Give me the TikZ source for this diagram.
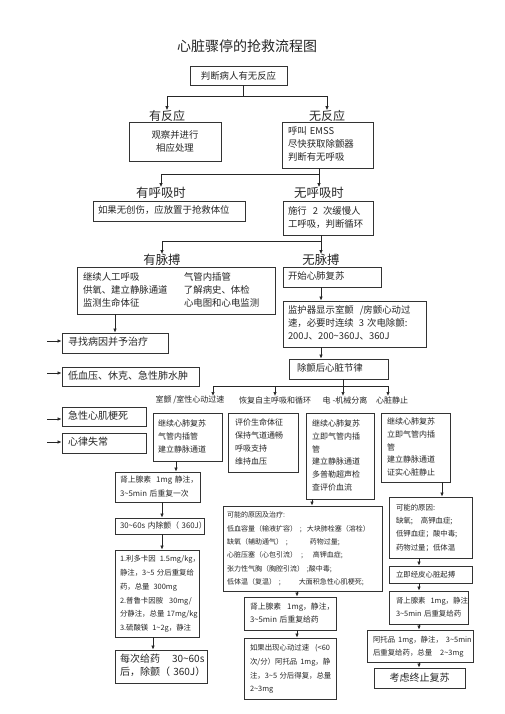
\documentclass[tikz,border=0pt]{standalone}
\usepackage{fontspec}
\setmainfont{Noto Sans CJK SC}
\usetikzlibrary{arrows.meta}
\newcommand\mytilde{\textasciitilde}
\newcommand\mylines[1]{\begin{tabular}{@{}l@{}}#1\end{tabular}}
\newcommand\fzT{\fontsize{14}{16}\selectfont}
\newcommand\fzL{\fontsize{12}{14}\selectfont}
\newcommand\fzM{\fontsize{12.4}{14}\selectfont}
\newcommand\fzA{\fontsize{9.4}{13}\selectfont}
\newcommand\fzC{\fontsize{8}{12.7}\selectfont}
\newcommand\fzD{\fontsize{7.4}{13.8}\selectfont}
\newcommand\fzE{\fontsize{7}{13.4}\selectfont}
\newcommand\fzF{\fontsize{7.4}{13.3}\selectfont}
\newcommand\fzG{\fontsize{7.8}{13.5}\selectfont}
\newcommand\fzH{\fontsize{10}{13}\selectfont}
\newcommand\fzR{\fontsize{8}{10}\selectfont}
\begin{document}
\begin{tikzpicture}[x=1pt,y=-1pt,
  bx/.style n args={2}{draw=black!80, line width=0.8pt, inner sep=0pt, minimum width=#1pt, minimum height=#2pt, text=black!85},
  tx/.style={text width=#1pt, align=left},
  lbl/.style={inner sep=0pt, text=black!85},
  ln/.style={line width=0.7pt, draw=black!85},
  arr/.style={ln, -{Latex[length=4pt,width=3.4pt]}},
]
\fill[white] (0,0) rectangle (505,714);
\useasboundingbox (0,0) rectangle (505,714);

% title
\node[lbl, font=\fzT] (title) at (247,46) {心脏骤停的抢救流程图};

% level 0
\node[bx={97}{19}, font=\fzA] (n0) at (238.5,75.5) {判断病人有无反应};
\coordinate (j0) at (243,96);
\node[lbl, font=\fzL] (l1) at (167,116) {有反应};
\node[lbl, font=\fzL] (l2) at (327,116) {无反应};
\draw[ln] (n0.south -| j0) -- (j0);
\draw[arr] (j0) -| (l1.north);
\draw[arr] (j0) -| (l2.north);

\node[bx={92}{39}, font=\fzA, align=center] (b1) at (175,141.5) {观察并进行\\相应处理};
\node[bx={91}{46}, font=\fzA, tx=79] (b2) at (327.5,145) {\mylines{呼叫 EMSS\\尽快获取除颤器\\判断有无呼吸}};

\coordinate (j1) at (319,174);
\node[lbl, font=\fzM] (l3) at (161,193) {有呼吸时};
\node[lbl, font=\fzM] (l4) at (319,193) {无呼吸时};
\draw[ln] (b2.south -| j1) -- (j1);
\draw[arr] (j1) -| (l3.north);
\draw[arr] (j1) -- (l4.north);

\node[bx={152}{20}, font=\fzA, tx=142] (b3) at (169,211) {\mylines{如果无创伤，应放置于抢救体位}};
\node[bx={90}{34}, font=\fzA, tx=80] (b4) at (328,218) {\mylines{施行\hspace{6pt}2\hspace{5pt}次缓慢人\\工呼吸，判断循环}};

\coordinate (j2) at (321,241);
\node[lbl, font=\fzM] (l5) at (162,260) {有脉搏};
\node[lbl, font=\fzM] (l6) at (321,260) {无脉搏};
\draw[ln] (b4.south -| j2) -- (j2);
\draw[arr] (j2) -| (l5.north);
\draw[arr] (j2) -- (l6.north);

\node[bx={198}{47}, font=\fzA] (b5) at (176,290.5) {\begin{tabular}{@{}p{101pt}@{}p{85pt}@{}}继续人工呼吸 & 气管内插管\\ 供氧、建立静脉通道 & 了解病史、体检\\ 监测生命体征 & 心电图和心电监测\end{tabular}};
\node[bx={98}{20}, font=\fzA, tx=88] (b6) at (332,277) {\mylines{开始心肺复苏}};
\node[bx={143}{46}, font=\fzA, tx=133] (b7) at (354.5,324) {\mylines{监护器显示室颤\hspace{6pt}/房颤心动过\\速，必要时连续\hspace{5pt}3 次电除颤:\\200J、200\mytilde360J、360J}};
\draw[arr] (b6.south -| l6) -- (b7.north -| l6);

% left column
\node[bx={106}{20}, font=\fzH, tx=94] (b8) at (115,343) {\mylines{寻找病因并予治疗}};
\node[bx={137}{19}, font=\fzH, tx=125] (b9) at (130.5,376.5) {\mylines{低血压、休克、急性肺水肿}};
\node[bx={84}{19}, font=\fzH, tx=72] (b10) at (104,416.5) {\mylines{急性心肌梗死}};
\node[bx={84}{20}, font=\fzH, tx=72] (b11) at (104,443) {\mylines{心律失常}};
\draw[arr] (b5.south -| b8) -- (b8.north);
\coordinate (s1) at (47,341);
\coordinate (s2) at (47,373);
\coordinate (s3) at (47,419);
\coordinate (s4) at (47,442);
\draw[arr] (s1) -- (s1 -| b8.west);
\draw[arr] (s2) -- (s2 -| b9.west);
\draw[arr] (s3) -- (s3 -| b10.west);
\draw[arr] (s4) -- (s4 -| b11.west);

% rhythm after defibrillation
\node[bx={99}{20}, font=\fzA, tx=83] (b12) at (338.5,369) {\mylines{除颤后心脏节律}};
\draw[arr] (b7.south -| l6) -- (b12.north -| l6);
\coordinate (j3) at (343,386);
\draw[ln] (b12.south -| j3) -- (j3);
\node[lbl, font=\fzR] (r1) at (190,400) {室颤 /室性心动过速};
\node[lbl, font=\fzR] (r2) at (275,400) {恢复自主呼吸和循环};
\node[lbl, font=\fzR] (r3) at (345,400) {电 -机械分离};
\node[lbl, font=\fzR] (r4) at (392,400) {心脏静止};
\coordinate (a1) at (213,396);
\coordinate (a2) at (275,396);
\coordinate (a3) at (343,396);
\coordinate (a4) at (388,396);
\draw[ln] (a1 |- j3) -- (a4 |- j3);
\draw[arr] (a1 |- j3) -- (a1);
\draw[arr] (a2 |- j3) -- (a2);
\draw[arr] (a3 |- j3) -- (a3);
\draw[arr] (a4 |- j3) -- (a4);

\begin{scope}[every node/.append style={line width=1pt, draw=black!90}]
\node[bx={69}{48}, font=\fzC, tx=59] (c1) at (187.5,437) {\mylines{继续心肺复苏\\气管内插管\\建立静脉通道}};
\node[bx={70}{59}, font=\fzC, tx=56] (c2) at (263,442.5) {\mylines{评价生命体征\\保持气道通畅\\呼吸支持\\维持血压}};
\node[bx={68}{86}, font=\fzC, tx=56] (c3) at (340,456) {\mylines{继续心肺复苏\\立即气管内插\\管\\建立静脉通道\\多普勒超声检\\查评价血流}};
\node[bx={69}{69}, font=\fzC, tx=57] (c4) at (415.5,447.5) {\mylines{继续心肺复苏\\立即气管内插\\管\\建立静脉通道\\证实心脏静止}};
\end{scope}

% VF branch
\node[bx={85}{30}, font=\fzG, tx=75] (d1) at (157.5,487) {\mylines{肾上腺素\hspace{5pt}1mg 静注，\\3\mytilde5min 后重复一次}};
\node[bx={89}{16}, font=\fzG, tx=79] (d2) at (159.5,526) {\mylines{30\mytilde60s 内除颤（ 360J）}};
\node[bx={84}{87}, font=\fzD, tx=74] (d3) at (157,593.5) {\mylines{1.利多卡因\hspace{4pt}1.5mg/kg，\\静注，3\mytilde5 分后重复给\\药，总量\hspace{4pt}300mg\\2.普鲁卡因胺\hspace{6pt}30mg/\\分静注，总量 17mg/kg\\3.硫酸镁\hspace{4pt}1\mytilde2g，静注}};
\node[bx={92}{33}, font=\fzH, tx=82] (d4) at (161,666.5) {\mylines{每次给药\hspace{12pt}30\mytilde60s\\后，除颤（ 360J）}};
\coordinate (k1) at (176,0);
\coordinate (k2) at (162,0);
\coordinate (k3) at (153,0);
\draw[arr] (c1.south -| k1) -- (d1.north -| k1);
\draw[arr] (d1.south -| k2) -- (d2.north -| k2);
\draw[arr] (d2.south -| k2) -- (d3.north -| k2);
\draw[arr] (d3.south -| k3) -- (d4.north -| k3);

% PEA branch
\node[bx={159}{85}, font=\fzE, tx=151] (e1) at (302.5,548.5) {\mylines{可能的原因及治疗:\\低血容量（输液扩容）\hspace{3pt};\hspace{5pt}大块肺栓塞（溶栓）\\缺氧（辅助通气）\hspace{3pt};\hspace{22pt}药物过量;\\心脏压塞（心包引流）\hspace{4pt};\hspace{10pt}高钾血症;\\张力性气胸（胸腔引流）\hspace{3pt};酸中毒;\\低体温（复温）\hspace{3pt};\hspace{18pt}大面积急性心肌梗死;}};
\node[bx={92}{33}, font=\fzG, tx=80] (e2) at (290,613.5) {\mylines{肾上腺素\hspace{6pt}1mg，静注，\\3\mytilde5min 后重复给药}};
\node[bx={92}{61}, font=\fzD, tx=80] (e3) at (290,668.5) {\mylines{如果出现心动过速\hspace{6pt}(<60\\次/分）阿托品\hspace{3pt}1mg，静\\注，3\mytilde5 分后得复，总量\\2\mytilde3mg}};
\coordinate (k4) at (312,0);
\coordinate (k5) at (297,0);
\draw[arr] (c3.south -| k4) -- (e1.north -| k4);
\draw[arr] (e1.south -| k5) -- (e2.north -| k5);
\draw[arr] (e2.south -| k5) -- (e3.north -| k5);

% asystole branch
\node[bx={83}{61}, font=\fzF, tx=69] (f1) at (430.5,527.5) {\mylines{可能的原因:\\缺氧;\hspace{8pt}高钾血症;\\低钾血症；酸中毒;\\药物过量；低体温}};
\node[bx={83}{17}, font=\fzF, tx=69] (f2) at (430.5,574.5) {\mylines{立即经皮心脏起搏}};
\node[bx={79}{33}, font=\fzF, tx=65] (f3) at (428.5,607.5) {\mylines{肾上腺素\hspace{5pt}1mg，静注\\3\mytilde5min 后重复给药}};
\node[bx={106}{32}, font=\fzF, tx=94] (f4) at (420,646) {\mylines{阿托品\hspace{3pt}1mg，静注，\hspace{3pt}3\mytilde5min\\后重复给药，总量\hspace{8pt}2\mytilde3mg}};
\node[bx={91}{20}, font=\fzH] (f5) at (419.5,678) {考虑终止复苏};
\coordinate (k6) at (442,0);
\coordinate (k7) at (419,0);
\draw[arr] (c4.south -| k6) -- (f1.north -| k6);
\draw[arr] (f1.south -| k7) -- (f2.north -| k7);
\draw[arr] (f2.south -| k7) -- (f3.north -| k7);
\draw[arr] (f3.south -| k7) -- (f4.north -| k7);
\draw[arr] (f4.south -| k7) -- (f5.north -| k7);
\end{tikzpicture}
\end{document}
